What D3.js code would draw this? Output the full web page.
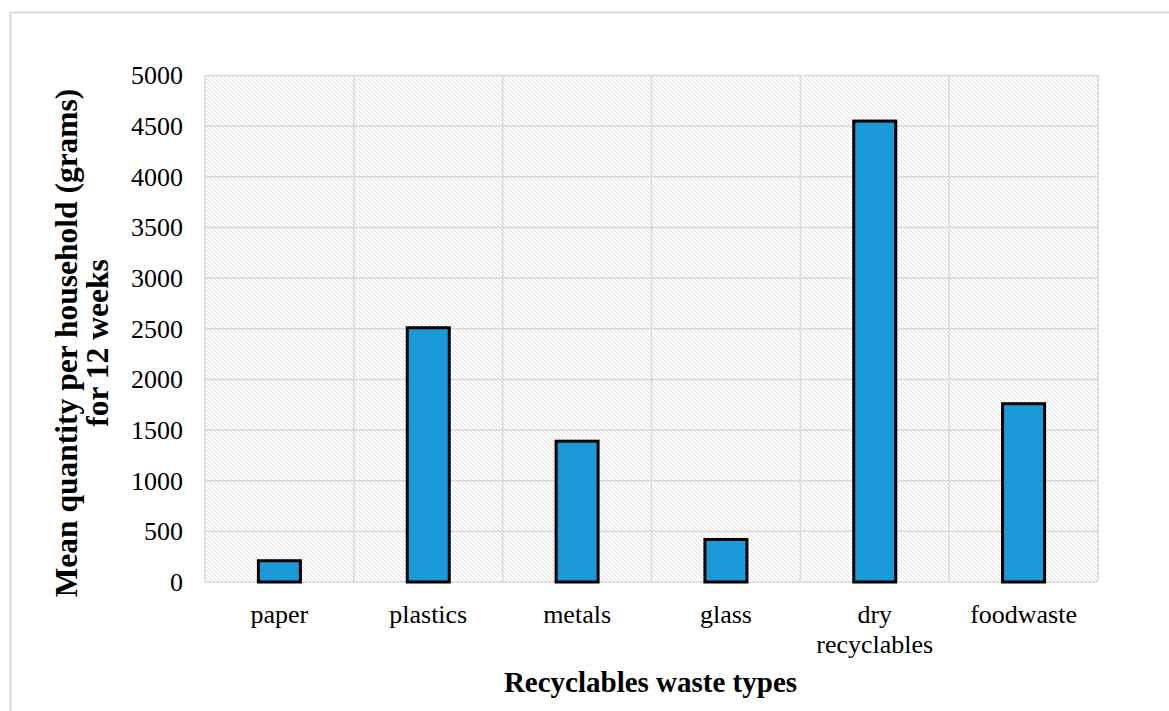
<!DOCTYPE html>
<html><head><meta charset="utf-8">
<script src="https://cdn.jsdelivr.net/npm/d3@7"></script>
<style>body{margin:0;background:#fff}svg{display:block}</style>
</head><body>
<script>
const categories = ["paper","plastics","metals","glass","dry recyclables","foodwaste"];
const values = [210, 2510, 1390, 420, 4550, 1760];
const yTicks = [0,500,1000,1500,2000,2500,3000,3500,4000,4500,5000];
const yTitleLines = ["Mean quantity per household (grams)","for 12 weeks"];
const xTitle = "Recyclables waste types";

const W = 1169, H = 711;
const m = {left:205, right:1098, top:75.5, bottom:582};
const svg = d3.select("body").append("svg").attr("width",W).attr("height",H);
const font = "'Liberation Serif','Times New Roman',serif";

const defs = svg.append("defs");
const pat = defs.append("pattern").attr("id","diag").attr("patternUnits","userSpaceOnUse")
  .attr("width",4).attr("height",4);
pat.append("rect").attr("width",4).attr("height",4).attr("fill","#fff");
pat.append("path").attr("d","M-1,-1 L5,5 M-1,3 L1,5 M3,-1 L5,1")
  .attr("stroke","#dedede").attr("stroke-width",1);

// outer frame
svg.append("rect").attr("x",10.5).attr("y",12.5).attr("width",1300).attr("height",900)
  .attr("fill","none").attr("stroke","#d9d9d9").attr("stroke-width",2);

const x = d3.scaleBand().domain(categories).range([m.left,m.right]).paddingInner(0).paddingOuter(0);
const y = d3.scaleLinear().domain([0,5000]).range([m.bottom,m.top]);

svg.append("rect").attr("x",m.left).attr("y",m.top).attr("width",m.right-m.left).attr("height",m.bottom-m.top)
  .attr("fill","url(#diag)");

// horizontal gridlines
svg.append("g").selectAll("line").data(yTicks).join("line")
  .attr("x1",m.left).attr("x2",m.right).attr("y1",d=>y(d)).attr("y2",d=>y(d))
  .attr("stroke","#d9d9d9").attr("stroke-width",1.5);
// vertical gridlines (category boundaries)
const bounds = categories.map(c=>x(c)).concat([m.right]);
svg.append("g").selectAll("line").data(bounds).join("line")
  .attr("x1",d=>d).attr("x2",d=>d).attr("y1",m.top).attr("y2",m.bottom)
  .attr("stroke","#d9d9d9").attr("stroke-width",1.5);

// bars
const bw = 42;
svg.append("g").selectAll("rect").data(values).join("rect")
  .attr("x",(d,i)=>x(categories[i])+x.bandwidth()/2-bw/2)
  .attr("width",bw)
  .attr("y",d=>y(d))
  .attr("height",d=>y(0)-y(d))
  .attr("fill","#1a9ad6").attr("stroke","#000").attr("stroke-width",3);

// y axis labels
const yAxis = d3.axisLeft(y).tickValues(yTicks).tickSize(0).tickPadding(22).tickFormat(d3.format("d"));
const ga = svg.append("g").attr("transform",`translate(${m.left},0)`).call(yAxis);
ga.select(".domain").remove();
ga.selectAll("text").attr("font-family",font).attr("font-size",26).attr("fill","#000");

// x labels
const gx = svg.append("g");
categories.forEach(c=>{
  const words = c === "dry recyclables" ? ["dry","recyclables"] : [c];
  const t = gx.append("text").attr("x",x(c)+x.bandwidth()/2).attr("y",623)
    .attr("text-anchor","middle").attr("font-family",font).attr("font-size",26).attr("fill","#000");
  words.forEach((w,i)=>t.append("tspan").attr("x",x(c)+x.bandwidth()/2).attr("dy",i?30:0).text(w));
});

// axis titles
svg.append("text").attr("x",(m.left+m.right)/2-1).attr("y",692).attr("text-anchor","middle")
  .attr("font-family",font).attr("font-size",29).attr("font-weight","bold").text(xTitle);

const yt = svg.append("text").attr("transform",`translate(77,343) rotate(-90)`)
  .attr("text-anchor","middle").attr("font-family",font).attr("font-size",31.5).attr("font-weight","bold");
yTitleLines.forEach((l,i)=>yt.append("tspan").attr("x",0).attr("dy",i?31:0).text(l));
</script>
</body></html>
